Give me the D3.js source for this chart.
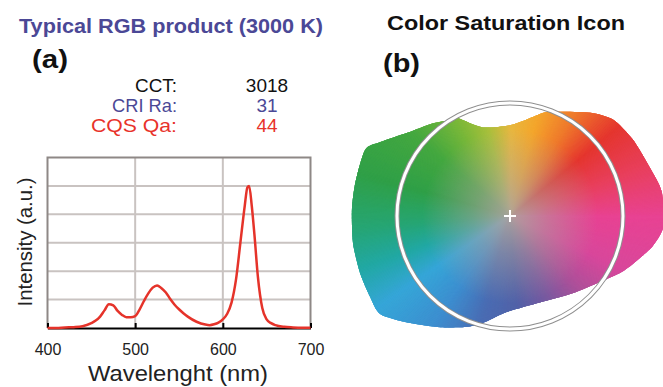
<!DOCTYPE html>
<html lang="en">
<head>
  <meta charset="UTF-8">
  <script src="https://cdn.jsdelivr.net/npm/d3@7"></script>
  <title>RGB spectrum and color saturation icon</title>
  <style>
    body { margin: 0; background: #fff; }
    svg { display: block; font-family: "Liberation Sans", Arial, sans-serif; }
  </style>
</head>

<body>
  <svg width="663" height="387" id="fig"></svg>
  <script>
    /* DATA (a) : spectrum of the RGB product */
    const wavelengths = [400, 410, 420, 430, 440, 450, 455, 460, 465, 470, 475, 480, 485, 490, 495,
      500, 505, 510, 515, 520, 525, 530, 535, 540, 545, 550, 555, 560, 570, 580, 585, 590, 595,
      600, 605, 610, 615, 620, 625, 628, 630, 633, 636, 640, 645, 650, 655, 660, 670, 680, 690, 700];
    const intensity = [0, 0, 0.02, 0.03, 0.06, 0.17, 0.26, 0.4, 0.62, 0.84, 0.8, 0.6, 0.46, 0.38, 0.38,
      0.42, 0.65, 0.95, 1.22, 1.42, 1.5, 1.4, 1.25, 1.02, 0.82, 0.66, 0.52, 0.4, 0.22, 0.12, 0.1, 0.13, 0.19,
      0.3, 0.5, 0.9, 1.7, 3.0, 4.3, 4.95, 5.0, 4.3, 3.3, 1.8, 0.7, 0.3, 0.17, 0.1, 0.04, 0.02, 0.01, 0.01];
    const xTicks = [400, 500, 600, 700];
    const gridLevels = [1, 2, 3, 4, 5];

    const metricNames = ["CCT:", "CRI Ra:", "CQS Qa:"];
    const metricValues = ["3018", "31", "44"];
    const metricColors = ["#111", "#4b4896", "#e8322a"];

    /* DATA (b) : gamut shape (angle in degrees ccw from right, radius relative to reference circle) */
    const blobAngle = [118, 107, 88, 72, 66, 52, 43, 32, 19, 9, -4, -12, -21, -27, -36, -51, -71, -92,
      -103, -111, -122, -134, -143, -150, -159, -170, -182, -192, -204.5, -209.7, -219, -230, -238];
    const blobRadius = [0.98, 0.82, 0.81, 0.96, 1.01, 1.16, 1.25, 1.28, 1.31, 1.36, 1.36, 1.29, 1.17, 1.10,
      0.99, 0.88, 0.81, 0.85, 0.96, 1.05, 1.16, 1.31, 1.44, 1.43, 1.42, 1.41, 1.40, 1.40, 1.41, 1.32,
      1.17, 1.07, 1.0];
    const hueAngle = [0, 20, 40, 58, 75, 90, 105, 120, 140, 165, 185, 200, 215, 235, 255, 275, 295, 315, 335, 360];
    const hueColor = ["#e84393", "#e8405e", "#e5362f", "#ef7a2c", "#f4a62c", "#e8b840", "#a8c03c",
      "#7ab83a", "#45a840", "#30a048", "#27a674", "#22a8a4", "#36a6d8", "#3d8fd0", "#4a6db4",
      "#5262a8", "#7a5aa0", "#b0509a", "#d8489c", "#e84393"];

    let svg = d3.select("#fig");

    /* ---------- PANEL (a) ---------- */
    svg.append("text")
      .attr("x", 19).attr("y", 33)
      .attr("textLength", 304).attr("lengthAdjust", "spacingAndGlyphs")
      .style("font-size", "20px").style("font-weight", "bold").attr("fill", "#4b4896")
      .text("Typical RGB product (3000 K)");

    svg.append("text")
      .attr("x", 32).attr("y", 68)
      .attr("textLength", 36).attr("lengthAdjust", "spacingAndGlyphs")
      .style("font-size", "26px").style("font-weight", "bold").attr("fill", "#111")
      .text("(a)");

    let nameLen = [42, 65, 86];
    metricNames.forEach((n, i) => {
      svg.append("text")
        .attr("x", 177).attr("y", 92 + i * 20)
        .attr("text-anchor", "end")
        .attr("textLength", nameLen[i]).attr("lengthAdjust", "spacingAndGlyphs")
        .style("font-size", "19px").attr("fill", metricColors[i])
        .text(n);
      svg.append("text")
        .attr("x", 267).attr("y", 92 + i * 20)
        .attr("text-anchor", "middle")
        .style("font-size", "19px").attr("fill", metricColors[i])
        .text(metricValues[i]);
    });

    /* SCALES */
    let x = d3.scaleLinear().domain([400, 700]).range([47.5, 310.5]);
    let y = d3.scaleLinear().domain([0, 6]).range([328, 157.5]);

    /* GRID */
    let grid = svg.append("g");
    grid.selectAll(".h").data(gridLevels).enter().append("line")
      .attr("x1", x(400)).attr("x2", x(700))
      .attr("y1", d => y(d)).attr("y2", d => y(d))
      .attr("stroke", "#c9c3c1").attr("stroke-width", 2);
    grid.selectAll(".v").data([500, 600]).enter().append("line")
      .attr("x1", d => x(d)).attr("x2", d => x(d))
      .attr("y1", y(0)).attr("y2", y(6))
      .attr("stroke", "#c9c3c1").attr("stroke-width", 2);
    grid.append("path")
      .attr("d", `M${x(400)},${y(0)}V${y(6)}H${x(700)}V${y(0)}`)
      .attr("fill", "none").attr("stroke", "#8e8886").attr("stroke-width", 2);

    /* AXIS */
    let axisX = d3.axisBottom(x).tickValues(xTicks)
      .tickSizeInner(-5).tickSizeOuter(0).tickPadding(15.5);
    let gx = svg.append("g").attr("transform", `translate(0,${y(0)})`).call(axisX);
    gx.select(".domain").attr("stroke", "#000").attr("stroke-width", 2);
    gx.selectAll(".tick line").attr("stroke", "#000").attr("stroke-width", 2);
    gx.selectAll(".tick text")
      .style("font-size", "16px").style("font-family", "'Liberation Sans', Arial, sans-serif")
      .attr("fill", "#222");

    /* SPECTRUM */
    let line = d3.line()
      .x((d, i) => x(wavelengths[i]))
      .y(d => y(d))
      .curve(d3.curveMonotoneX);
    svg.append("path")
      .attr("d", line(intensity))
      .attr("fill", "none").attr("stroke", "#e5332a").attr("stroke-width", 2.5)
      .attr("stroke-linejoin", "round");

    /* AXIS TITLES */
    svg.append("text")
      .attr("transform", "translate(32.3,242) rotate(-90)")
      .attr("text-anchor", "middle")
      .attr("textLength", 129).attr("lengthAdjust", "spacingAndGlyphs")
      .style("font-size", "20px").attr("fill", "#222")
      .text("Intensity (a.u.)");
    svg.append("text")
      .attr("x", 178).attr("y", 380.7)
      .attr("text-anchor", "middle")
      .attr("textLength", 180).attr("lengthAdjust", "spacingAndGlyphs")
      .style("font-size", "22px").attr("fill", "#222")
      .text("Wavelenght (nm)");

    /* ---------- PANEL (b) ---------- */
    svg.append("text")
      .attr("x", 387).attr("y", 30)
      .attr("textLength", 238).attr("lengthAdjust", "spacingAndGlyphs")
      .style("font-size", "21px").style("font-weight", "bold").attr("fill", "#111")
      .text("Color Saturation Icon");
    svg.append("text")
      .attr("x", 383).attr("y", 72)
      .attr("textLength", 37).attr("lengthAdjust", "spacingAndGlyphs")
      .style("font-size", "26px").style("font-weight", "bold").attr("fill", "#111")
      .text("(b)");

    let r = d3.scaleLinear().domain([0, 1]).range([0, 113]);
    let toRad = deg => (90 - deg) * Math.PI / 180; // d3 angles: 0 at top, clockwise
    let hue = d3.scaleLinear().domain(hueAngle).range(hueColor).interpolate(d3.interpolateRgb);

    let icon = svg.append("g").attr("transform", "translate(510,216)");
    let defs = svg.append("defs");

    let blob = d3.lineRadial()
      .angle((d, i) => toRad(blobAngle[i]))
      .radius(d => r(d))
      .curve(d3.curveCardinalClosed.tension(0.3));
    defs.append("clipPath").attr("id", "blobClip")
      .append("path").attr("d", blob(blobRadius));

    let grad = defs.append("radialGradient").attr("id", "centerGray")
      .attr("gradientUnits", "userSpaceOnUse").attr("cx", 0).attr("cy", 0).attr("r", 125);
    grad.append("stop").attr("offset", 0).attr("stop-color", "#ada39e").attr("stop-opacity", 0.95);
    grad.append("stop").attr("offset", 0.3).attr("stop-color", "#ada39e").attr("stop-opacity", 0.5);
    grad.append("stop").attr("offset", 0.7).attr("stop-color", "#ada39e").attr("stop-opacity", 0);

    let wheel = icon.append("g").attr("clip-path", "url(#blobClip)");
    let wedge = d3.arc().innerRadius(0).outerRadius(r(1.6));
    wheel.selectAll("path").data(d3.range(0, 360, 0.5)).enter().append("path")
      .attr("d", d => wedge({ startAngle: toRad(d + 0.6), endAngle: toRad(d - 0.6) }))
      .attr("fill", d => hue(d))
      .attr("stroke", d => hue(d)).attr("stroke-width", 0.8);
    wheel.append("circle").attr("r", r(1.6)).attr("fill", "url(#centerGray)");

    /* reference circle */
    icon.append("circle").attr("r", r(1)).attr("fill", "none")
      .attr("stroke", "#8f8f8f").attr("stroke-width", 5);
    icon.append("circle").attr("r", r(1)).attr("fill", "none")
      .attr("stroke", "#fff").attr("stroke-width", 3);

    /* center cross */
    icon.append("line").attr("x1", -6).attr("x2", 6).attr("stroke", "#fff").attr("stroke-width", 2);
    icon.append("line").attr("y1", -6).attr("y2", 6).attr("stroke", "#fff").attr("stroke-width", 2);
  </script>
</body>
</html>
